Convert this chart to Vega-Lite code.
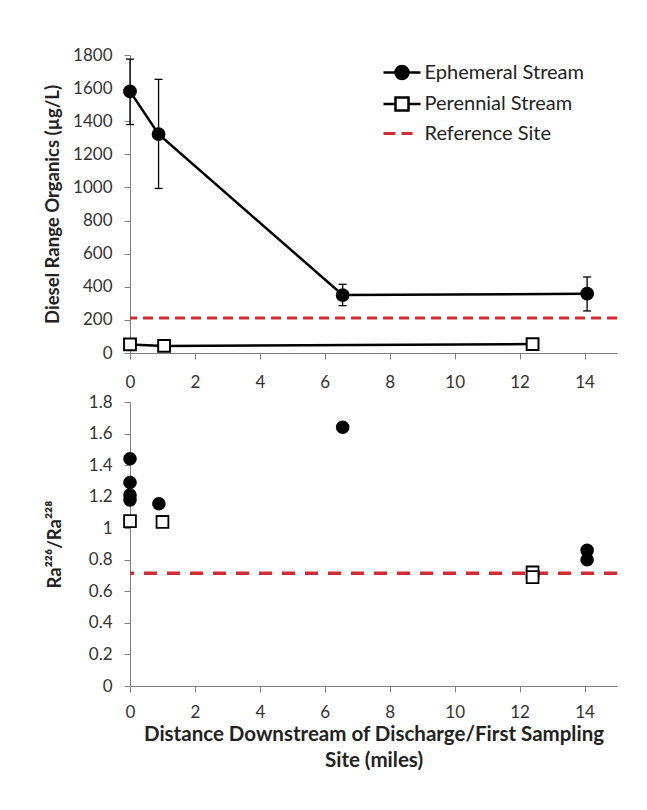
{
  "$schema": "https://vega.github.io/schema/vega-lite/v6.json",
  "background": "white",
  "padding": {"left": 43, "top": 46, "right": 5, "bottom": 5},
  "spacing": 3,
  "config": {
    "font": "Lato",
    "view": {"stroke": null},
    "axis": {
      "grid": false,
      "domainColor": "#808080",
      "tickColor": "#808080",
      "labelColor": "#333333",
      "labelFont": "Lato",
      "labelFontSize": 17,
      "labelOverlap": false,
      "labelFlush": false,
      "titleFont": "Lato",
      "titleFontSize": 18.5,
      "titleFontWeight": "bold",
      "titleColor": "#222222",
      "tickSize": 6,
      "labelPadding": 12
    }
  },
  "datasets": {
    "dro": [
      {"series": "Ephemeral Stream", "x": 0, "y": 1580},
      {"series": "Ephemeral Stream", "x": 0.88, "y": 1322},
      {"series": "Ephemeral Stream", "x": 6.55, "y": 350},
      {"series": "Ephemeral Stream", "x": 14.08, "y": 358},
      {"series": "Perennial Stream", "x": 0, "y": 52},
      {"series": "Perennial Stream", "x": 1.05, "y": 43},
      {"series": "Perennial Stream", "x": 12.4, "y": 54}
    ],
    "err": [
      {"series": "Ephemeral Stream", "x": 0, "lo": 1380, "hi": 1775},
      {"series": "Ephemeral Stream", "x": 0.88, "lo": 994, "hi": 1653},
      {"series": "Ephemeral Stream", "x": 6.55, "lo": 286, "hi": 415},
      {"series": "Ephemeral Stream", "x": 14.08, "lo": 254, "hi": 459},
      {"series": "Perennial Stream", "x": 1.05, "lo": 16, "hi": 69},
      {"series": "Perennial Stream", "x": 12.4, "lo": 22, "hi": 84}
    ],
    "refdro": [{"series": "Reference Site", "value": 212}],
    "ra": [
      {"series": "Ephemeral Stream", "x": 0, "y": 1.44},
      {"series": "Ephemeral Stream", "x": 0, "y": 1.29},
      {"series": "Ephemeral Stream", "x": 0, "y": 1.21},
      {"series": "Ephemeral Stream", "x": 0, "y": 1.18},
      {"series": "Ephemeral Stream", "x": 0.89, "y": 1.155},
      {"series": "Ephemeral Stream", "x": 6.55, "y": 1.64},
      {"series": "Ephemeral Stream", "x": 14.08, "y": 0.86},
      {"series": "Ephemeral Stream", "x": 14.08, "y": 0.8},
      {"series": "Perennial Stream", "x": 0, "y": 1.045},
      {"series": "Perennial Stream", "x": 1.0, "y": 1.04},
      {"series": "Perennial Stream", "x": 12.4, "y": 0.72},
      {"series": "Perennial Stream", "x": 12.4, "y": 0.69}
    ],
    "refra": [{"series": "Reference Site", "value": 0.715}]
  },
  "vconcat": [
    {
      "width": 487,
      "height": 298,
      "layer": [
        {
          "data": {"name": "refdro"},
          "mark": {"type": "rule", "strokeDash": [10, 6], "strokeWidth": 3},
          "encoding": {
            "y": {
              "field": "value", "type": "quantitative",
              "scale": {"domain": [0, 1800], "nice": false},
              "axis": {"values": [0, 200, 400, 600, 800, 1000, 1200, 1400, 1600, 1800], "tickCount": 30, "labelOverlap": false, "format": "d", "title": "Diesel Range Organics (µg/L)", "titlePadding": 10}
            },
            "color": {
              "field": "series", "type": "nominal",
              "scale": {"domain": ["Ephemeral Stream", "Perennial Stream", "Reference Site"], "range": ["black", "black", "#d22b33"]},
              "legend": {
                "title": null,
                "orient": "none",
                "legendX": 262,
                "legendY": 7.5,
                "symbolSize": 400,
                "labelOffset": 12.5,
                "labelFont": "Lato",
                "labelFontSize": 20,
                "labelColor": "#222222",
                "rowPadding": 7.5,
                "encode": {
                  "symbols": {
                    "update": {
                      "shape": {"signal": "datum.value === 'Ephemeral Stream' ? 'M-1.85,0H1.85M-0.65,0A0.65,0.65,0,1,0,0.65,0A0.65,0.65,0,1,0,-0.65,0Z' : datum.value === 'Perennial Stream' ? 'M-1.85,0H-0.65M0.65,0H1.85M-0.65,-0.65H0.65V0.65H-0.65Z' : 'M-1.85,0H-0.65M-0.05,0H1.05'"},
                      "fill": {"signal": "datum.value === 'Ephemeral Stream' ? 'black' : datum.value === 'Perennial Stream' ? 'white' : 'transparent'"},
                      "stroke": {"signal": "datum.value === 'Reference Site' ? '#d22b33' : 'black'"},
                      "strokeWidth": {"signal": "datum.value === 'Reference Site' ? 3 : 2.5"},
                      "strokeDash": {"value": []},
                      "opacity": {"value": 1}
                    }
                  }
                }
              }
            }
          }
        },
        {
          "data": {"name": "err"},
          "mark": {"type": "rule", "color": "black", "strokeWidth": 1.3},
          "encoding": {
            "x": {"field": "x", "type": "quantitative"},
            "y": {"field": "lo", "type": "quantitative"},
            "y2": {"field": "hi"}
          }
        },
        {
          "data": {"name": "err"},
          "mark": {"type": "tick", "orient": "horizontal", "color": "black", "size": 8, "thickness": 1.3, "opacity": 1},
          "encoding": {
            "x": {"field": "x", "type": "quantitative"},
            "y": {"field": "lo", "type": "quantitative"}
          }
        },
        {
          "data": {"name": "err"},
          "mark": {"type": "tick", "orient": "horizontal", "color": "black", "size": 8, "thickness": 1.3, "opacity": 1},
          "encoding": {
            "x": {"field": "x", "type": "quantitative"},
            "y": {"field": "hi", "type": "quantitative"}
          }
        },
        {
          "data": {"name": "dro"},
          "mark": {"type": "line", "strokeWidth": 2.5},
          "encoding": {
            "x": {"field": "x", "type": "quantitative"},
            "y": {"field": "y", "type": "quantitative"},
            "color": {"field": "series", "type": "nominal"}
          }
        },
        {
          "data": {"name": "dro"},
          "mark": {"type": "point", "stroke": "black", "strokeWidth": 2, "opacity": 1, "size": 140},
          "encoding": {
            "x": {
              "field": "x", "type": "quantitative",
              "scale": {"domain": [0, 15], "nice": false},
              "axis": {"values": [0, 2, 4, 6, 8, 10, 12, 14], "tickCount": 30, "format": "d", "labelFlush": false, "labelOverlap": false, "title": null, "labelPadding": 15}
            },
            "y": {"field": "y", "type": "quantitative"},
            "shape": {"field": "series", "type": "nominal", "scale": {"domain": ["Ephemeral Stream", "Perennial Stream"], "range": ["circle", "square"]}, "legend": null},
            "fill": {"field": "series", "type": "nominal", "scale": {"domain": ["Ephemeral Stream", "Perennial Stream"], "range": ["black", "white"]}, "legend": null}
          }
        }
      ]
    },
    {
      "width": 487,
      "height": 284,
      "layer": [
        {
          "data": {"name": "refra"},
          "mark": {"type": "rule", "color": "#d22b33", "strokeDash": [13, 10], "strokeWidth": 3.5},
          "encoding": {
            "y": {
              "field": "value", "type": "quantitative",
              "scale": {"domain": [0, 1.8], "nice": false},
              "axis": {"values": [0, 0.2, 0.4, 0.6, 0.8, 1, 1.2, 1.4, 1.6, 1.8], "tickCount": 30, "labelOverlap": false, "format": ".1~f", "title": "Ra²²⁶/Ra²²⁸", "titlePadding": 24}
            }
          }
        },
        {
          "data": {"name": "ra"},
          "mark": {"type": "point", "stroke": "black", "strokeWidth": 1.8, "opacity": 1, "size": 140},
          "encoding": {
            "x": {
              "field": "x", "type": "quantitative",
              "scale": {"domain": [0, 15], "nice": false},
              "axis": {"values": [0, 2, 4, 6, 8, 10, 12, 14], "tickCount": 30, "format": "d", "labelFlush": false, "labelOverlap": false, "title": ["Distance Downstream of Discharge/First Sampling", "Site (miles)"], "titleFontSize": 20.5, "titlePadding": 4, "titleLineHeight": 26}
            },
            "y": {"field": "y", "type": "quantitative"},
            "shape": {"field": "series", "type": "nominal", "scale": {"domain": ["Ephemeral Stream", "Perennial Stream"], "range": ["circle", "square"]}, "legend": null},
            "fill": {"field": "series", "type": "nominal", "scale": {"domain": ["Ephemeral Stream", "Perennial Stream"], "range": ["black", "white"]}, "legend": null}
          }
        }
      ]
    }
  ]
}
